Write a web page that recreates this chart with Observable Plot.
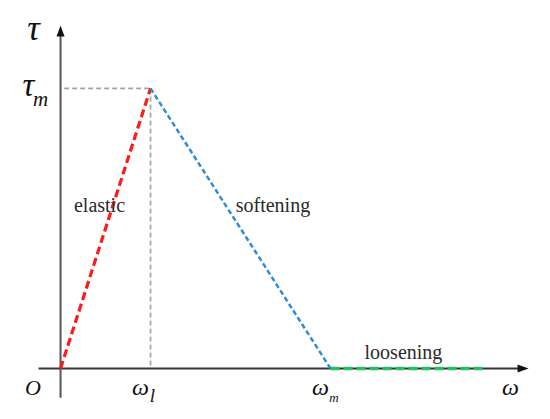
<!DOCTYPE html>
<html>
<head>
<meta charset="utf-8">
<script src="https://cdn.jsdelivr.net/npm/d3@7"></script>
<script src="https://cdn.jsdelivr.net/npm/@observablehq/plot@0.6"></script>
<style>
  html, body { margin: 0; padding: 0; background: #fff; }
  #chart text { font-family: 'Liberation Serif', 'DejaVu Serif', serif; }
</style>
</head>
<body>
<div id="chart"></div>
<script>
// Key points of the constitutive curve (omega in units of omega_l, tau in units of tau_m)
const stages = ["elastic", "softening", "loosening"];
const omegaPts = [0, 1, 3, 4.7];
const tauPts = [0, 1, 0, 0];
const stageColors = ["#ff1a1a", "#2f8bd8", "#22c35e"];
const stageLabelX = [0.433, 2.36, 3.81];
const stageLabelY = [0.58, 0.58, 0.057];
const axisX = [-0.244, 5.2];
const axisY = [-0.104, 1.225];

// axis symbols: text, x, y, size
const symText = ["τ", "τ", "m", "O", "ω", "l", "ω", "m", "ω"];
const symX = [-0.30, -0.356, -0.222, -0.306, 0.889, 1.022, 2.889, 3.039, 5.0];
const symY = [1.214, 1.012, 0.961, -0.068, -0.066, -0.097, -0.066, -0.106, -0.066];
const symSize = [35, 33, 21, 22, 24, 19, 24, 13, 24];

const segs = stages.map((s, i) => ({
  stage: s, x1: omegaPts[i], y1: tauPts[i], x2: omegaPts[i + 1], y2: tauPts[i + 1]
}));
const symbols = symText.map((t, i) => ({ t, x: symX[i], y: symY[i], s: symSize[i] }));

// filled arrowhead with its tip at the origin, pointing up
const arrowHead = {
  draw(ctx) {
    ctx.moveTo(0, 0);
    ctx.lineTo(4, 11);
    ctx.lineTo(-4, 11);
    ctx.closePath();
  }
};

const serif = "'Liberation Serif', 'DejaVu Serif', serif";
const dashes = ["8,4", "5,3", "9,4"];
const widths = [3.2, 2.5, 3.6];

const chart = Plot.plot({
  width: 550,
  height: 419,
  margin: 0,
  style: { fontFamily: serif },
  x: { domain: [-0.667, 5.444], axis: null },
  y: { domain: [-0.182, 1.314], axis: null },
  marks: [
    // axes
    Plot.link([0], { x1: axisX[0], x2: axisX[1] - 0.06, y1: 0, y2: 0, stroke: "#333", strokeWidth: 2 }),
    Plot.link([0], { x1: 0, x2: 0, y1: axisY[0], y2: axisY[1] - 0.02, stroke: "#555", strokeWidth: 2 }),
    Plot.dot([0], { x: axisX[1], y: 0, symbol: arrowHead, rotate: 90, fill: "#111", stroke: null }),
    Plot.dot([0], { x: 0, y: axisY[1], symbol: arrowHead, fill: "#111", stroke: null }),
    // guides
    Plot.link([0], { x1: 0.04, x2: omegaPts[1], y1: tauPts[1], y2: tauPts[1], stroke: "#a3a3a3", strokeWidth: 1.8, strokeDasharray: "5,3" }),
    Plot.link([0], { x1: omegaPts[1], x2: omegaPts[1], y1: tauPts[1], y2: 0, stroke: "#aaaaaa", strokeWidth: 1.8, strokeDasharray: "5,3" }),
    // curve, one dashed segment per stage
    ...segs.map((seg, i) => Plot.link([seg], {
      x1: "x1", y1: "y1", x2: "x2", y2: "y2",
      stroke: stageColors[i], strokeWidth: widths[i], strokeDasharray: dashes[i]
    })),
    // stage labels
    Plot.text(stages, { x: (d, i) => stageLabelX[i], y: (d, i) => stageLabelY[i], text: d => d, fontFamily: serif, fontSize: 20, fill: "#2a2a2a" }),
    // axis symbols
    ...symbols.map(d => Plot.text([d], { x: "x", y: "y", text: "t", fontFamily: serif, fontStyle: "italic", fontSize: d.s, fill: "#111" }))
  ]
});
document.getElementById("chart").appendChild(chart);
</script>
</body>
</html>
